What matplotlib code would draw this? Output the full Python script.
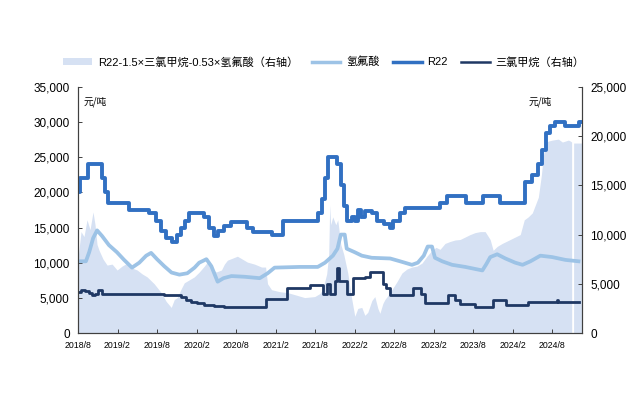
import matplotlib
matplotlib.use("Agg")
import matplotlib.pyplot as plt
from matplotlib.patches import Patch
from matplotlib.lines import Line2D

plt.rcParams['font.family'] = ['Liberation Sans', 'Noto Sans CJK SC', 'DejaVu Sans']

# x values: months since 2018/8
tick_months = [0, 6, 12, 18, 24, 30, 36, 42, 48, 54, 60, 66, 72]
tick_labels = ['2018/8', '2019/2', '2019/8', '2020/2', '2020/8', '2021/2', '2021/8',
               '2022/2', '2022/8', '2023/2', '2023/8', '2024/2', '2024/8']

# R22 (left axis, yuan/ton)
r22_t = [0, 0.3, 1.5, 3.65, 4.1, 4.6, 7.8, 10.8, 11.9, 12.6, 13.4, 14.2, 15.1, 15.7, 16.3, 16.9,
         19.2, 19.9, 20.6, 21.3, 22.1, 23.3, 25.6, 26.6, 29.5, 31.1, 36.4, 37.0, 37.5, 37.9,
         39.4, 39.9, 40.4, 40.8, 41.6, 42.0, 42.5, 42.9, 43.6, 44.6, 45.4, 46.4, 47.4, 47.8,
         48.9, 49.6, 55.0, 56.0, 58.9, 61.5, 64.1, 67.8, 69.0, 69.9, 70.5, 71.0, 71.7, 72.5,
         74.0, 76.0, 76.4]
r22_v = [20000, 22000, 24000, 22000, 20000, 18500, 17500, 17000, 16000, 14500, 13500, 13000,
         14000, 15000, 16000, 17000, 16500, 15000, 13800, 14500, 15200, 15800, 15000, 14300,
         14000, 16000, 17000, 19000, 22000, 25000, 24000, 21000, 18000, 16000, 16500, 16000,
         17500, 16500, 17300, 17000, 16000, 15500, 15000, 16000, 17000, 17800, 18500, 19500,
         18500, 19500, 18500, 21500, 22500, 24000, 26000, 28500, 29500, 30000, 29500, 30000,
         30000]

# Hydrofluoric acid (left axis)
hf_t = [0, 1.2, 1.7, 2.3, 2.9, 3.65, 4.7, 5.9, 7.0, 8.2, 9.3, 10.35, 11.1, 12.0, 13.1, 14.2,
        15.4, 16.6, 17.7, 18.4, 19.5, 20.25, 21.2, 22.1, 23.3, 25.3, 27.6, 28.8, 29.85, 33.65,
        36.4, 37.5, 38.7, 39.4, 39.9, 40.5, 40.8, 42.0, 43.1, 44.6, 47.4, 48.9, 50.7, 51.6,
        52.5, 53.1, 53.75, 54.2, 55.3, 56.8, 58.8, 61.4, 62.0, 62.6, 63.65, 64.9, 66.4, 67.5,
        68.7, 70.2, 72.0, 74.0, 76.0]
hf_v = [10200, 10200, 11500, 13500, 14600, 13800, 12500, 11500, 10400, 9300, 10000, 11000,
        11400, 10500, 9500, 8600, 8300, 8500, 9300, 10000, 10500, 9500, 7300, 7800, 8100, 8000,
        7800, 8500, 9300, 9400, 9400, 10000, 11000, 12000, 14000, 14000, 12000, 11500, 11000,
        10700, 10600, 10200, 9700, 10000, 11000, 12300, 12300, 10700, 10200, 9700, 9400, 8900,
        9800, 10800, 11200, 10600, 10000, 9700, 10200, 11000, 10800, 10400, 10200]

# Chloroform (right axis)
cm_t = [0, 0.46, 1.07, 1.68, 2.13, 2.59, 3.05, 3.65, 4.4, 12.3, 13.1, 15.7, 16.45, 17.2, 18.1,
        19.2, 20.7, 22.2, 28.3, 28.6, 31.4, 31.8, 34.7, 35.2, 36.7, 37.15, 37.8, 38.2, 39.0,
        39.3, 39.7, 40.35, 40.8, 41.7, 43.55, 44.3, 45.8, 46.3, 46.75, 47.4, 50.4, 50.9, 51.6,
        52.1, 52.7, 55.7, 56.2, 57.3, 58.0, 60.3, 62.6, 63.0, 64.6, 65.0, 67.9, 68.4, 72.7,
        72.8, 72.9, 76.0]
cm_v = [4200, 4400, 4300, 4100, 3900, 4000, 4400, 4000, 3950, 3950, 3850, 3700, 3400, 3100,
        3000, 2800, 2700, 2600, 2600, 3500, 3500, 4600, 4600, 4900, 4900, 4000, 5000, 4000,
        5300, 6600, 5300, 5300, 4000, 5600, 5700, 6200, 6200, 5000, 4600, 3900, 3900, 4600,
        4600, 4000, 3000, 3000, 3900, 3400, 2900, 2600, 2600, 3400, 3400, 2800, 2800, 3150,
        3150, 3400, 3150, 3150]

# Spread R22-1.5*CHCl3-0.53*HF (right axis)
sp_t = [0, 0.46, 0.91, 1.37, 1.83, 2.28, 2.59, 2.89, 3.2, 3.81, 4.42, 5.18, 5.94, 6.7, 7.46,
        8.22, 8.98, 9.75, 10.5, 11.57, 12.64, 13.4, 14.16, 14.62, 15.08, 15.68, 16.14, 16.9,
        17.66, 18.42, 19.19, 19.64, 20.25, 21.0, 21.78, 22.23, 22.69, 23.45, 24.2, 24.97,
        25.73, 26.8, 27.87, 28.48, 28.78, 29.39, 30.6, 31.83, 32.89, 34.41, 35.94, 36.7,
        37.15, 37.76, 38.07, 38.22, 38.37, 38.68, 39.14, 39.44, 39.9, 40.35, 40.96, 41.42,
        42.03, 42.49, 43.09, 43.55, 44.0, 44.62, 45.07, 45.53, 45.84, 46.29, 46.6, 47.05,
        47.66, 48.42, 49.19, 49.95, 50.71, 51.47, 52.23, 52.99, 53.75, 54.36, 54.97, 55.73,
        56.5, 57.26, 58.02, 58.78, 59.54, 60.3, 61.06, 61.82, 62.58, 63.04, 63.65, 64.41,
        65.33, 66.39, 67.15, 67.76, 68.37, 68.98, 69.44, 69.9, 70.35, 70.66, 70.97, 71.42,
        72.03, 72.94, 73.55, 74.46, 74.77, 74.95, 74.96, 75.25, 75.26, 75.99, 76.44]
sp_v = [7600, 10300, 9800, 11500, 10500, 12300, 11000, 9000, 8400, 7500, 6900, 7000, 6400,
        6800, 7100, 6600, 6400, 6000, 5700, 5000, 4100, 3200, 2600, 3400, 3600, 4500, 5100,
        5400, 5700, 6200, 6800, 7200, 6500, 6200, 6400, 7000, 7400, 7600, 7800, 7500, 7200,
        7000, 6700, 6700, 5000, 4400, 4200, 4100, 3900, 3600, 3700, 4000, 4400, 6000, 8000,
        13000, 11000, 11800, 11000, 11500, 9000, 8000, 6100, 4000, 1700, 2500, 2600, 1800,
        2100, 3300, 3700, 2500, 2000, 3000, 3400, 3800, 4400, 5200, 6100, 6500, 6700, 6800,
        7100, 7800, 8400, 8700, 8500, 9100, 9300, 9450, 9500, 9750, 10000, 10200, 10300,
        10300, 9500, 8400, 8800, 9100, 9400, 9750, 10000, 11500, 11800, 12200, 13000, 13800,
        16000, 18000, 19300, 19500, 19600, 19700, 19400, 19600, 19500, 19400, 0, 0, 19300,
        19300, 19300]

c_area = '#D6E1F3'
c_hf = '#9DC3E6'
c_r22 = '#3170C2'
c_cm = '#1F3864'

fig = plt.figure(figsize=(6.29, 4.16), dpi=100)
ax = fig.add_axes([0.124, 0.1995, 0.801, 0.5915])
ax2 = ax.twinx()
ax.set_zorder(2)
ax.patch.set_visible(False)
ax2.set_zorder(1)

ax2.fill_between(sp_t, 0, sp_v, color=c_area, linewidth=0)
ax2.plot(cm_t, cm_v, color=c_cm, lw=2.0, drawstyle='steps-post')
ax.plot(hf_t, hf_v, color=c_hf, lw=2.7)
ax.plot(r22_t, r22_v, color=c_r22, lw=2.8, drawstyle='steps-post')

ax.set_xlim(0, 76.5)
ax.set_ylim(0, 35000)
ax2.set_ylim(0, 25000)
ax.set_yticks(range(0, 35001, 5000))
ax2.set_yticks(range(0, 25001, 5000))
ax.set_yticklabels(['0' if v == 0 else f'{v:,}' for v in range(0, 35001, 5000)], fontsize=8.5)
ax2.set_yticklabels(['0' if v == 0 else f'{v:,}' for v in range(0, 25001, 5000)], fontsize=8.5)
ax.set_xticks(tick_months)
ax.set_xticklabels(tick_labels, fontsize=6.3)

for a in (ax, ax2):
    a.spines['top'].set_visible(False)
    for s in ('left', 'right', 'bottom'):
        a.spines[s].set_color('#404040')
        a.spines[s].set_linewidth(0.8)
    a.tick_params(direction='in', length=3, width=0.7, colors='#404040', labelcolor='black')
ax.tick_params(axis='x', pad=6)
ax.tick_params(axis='y', pad=6)
ax2.tick_params(axis='y', pad=6)

ax.text(0.012, 0.96, '元/吨', transform=ax.transAxes, fontsize=7, va='top', ha='left',
        family=['Noto Sans CJK SC'])
ax.text(0.895, 0.96, '元/吨', transform=ax.transAxes, fontsize=7, va='top', ha='left',
        family=['Noto Sans CJK SC'])

handles = [Patch(facecolor=c_area, edgecolor='none'),
           Line2D([], [], color=c_hf, lw=2.5),
           Line2D([], [], color=c_r22, lw=2.5),
           Line2D([], [], color=c_cm, lw=1.8)]
labels = ['R22-1.5×三氯甲烷-0.53×氢氟酸（右轴）', '氢氟酸', 'R22', '三氯甲烷（右轴）']
fig.legend(handles, labels, loc='center', bbox_to_anchor=(0.515, 0.851), ncol=4,
           frameon=False, fontsize=8, handlelength=2.6, columnspacing=1.2, handletextpad=0.5)

fig.savefig('out.png', dpi=100)
